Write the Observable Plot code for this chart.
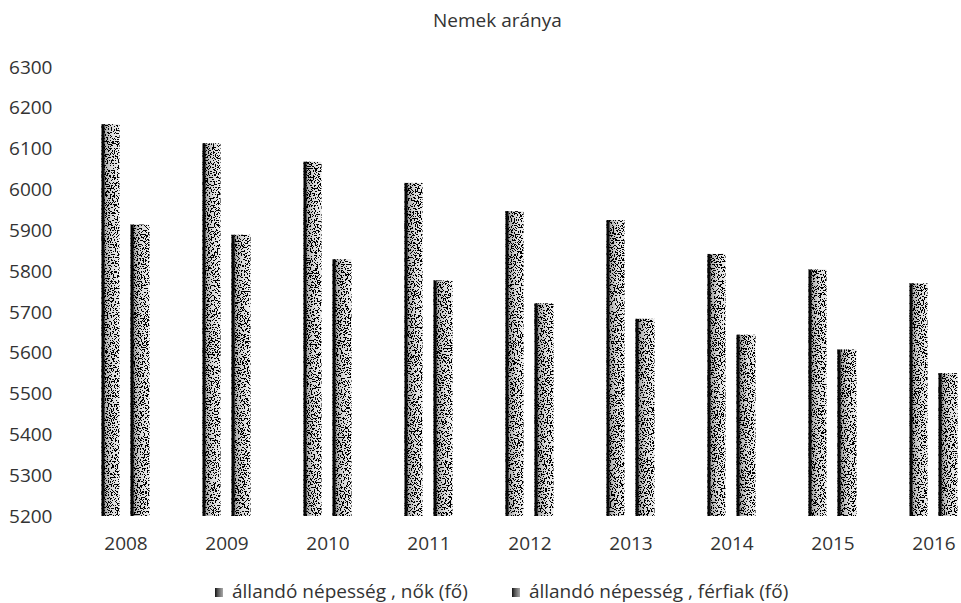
<!DOCTYPE html>
<html>
<head>
<meta charset="utf-8">
<script src="https://cdn.jsdelivr.net/npm/d3@7"></script>
<script src="https://cdn.jsdelivr.net/npm/@observablehq/plot@0.6"></script>
<style>
  html, body { margin: 0; padding: 0; background: #fff; overflow: hidden; }
  #wrap { position: relative; width: 961px; height: 603px; overflow: hidden; font-family: "Open Sans", sans-serif; color: #333; }
  #chart { position: absolute; left: 0; top: 0; }
  #title { position: absolute; top: 7px; left: 433px; font-size: 19px; line-height: 26px; white-space: nowrap; }
  #legend { position: absolute; top: 578px; left: 215px; font-size: 19px; line-height: 26px; white-space: nowrap; }
  #legend span.item { display: inline-block; margin-right: 44px; }
  #legend i { display: inline-block; width: 8px; height: 9px; margin-right: 9px; background: linear-gradient(90deg, #111 0%, #555 35%, #aaa 100%); vertical-align: 1px; }
</style>
</head>
<body>
<div id="wrap">
  <div id="chart"></div>
  <div id="title">Nemek aránya</div>
  <div id="legend"></div>
</div>
<script>
const years = ["2008", "2009", "2010", "2011", "2012", "2013", "2014", "2015", "2016"];
const series = ["állandó népesség , nők (fő)", "állandó népesség , férfiak (fő)"];
const nok = [6160, 6113, 6068, 6016, 5947, 5925, 5842, 5804, 5770];
const ferfiak = [5914, 5889, 5829, 5777, 5721, 5683, 5644, 5608, 5550];
const yTicks = [5200, 5300, 5400, 5500, 5600, 5700, 5800, 5900, 6000, 6100, 6200, 6300];

const dataN = years.map((y, i) => ({year: y, value: nok[i]}));
const dataF = years.map((y, i) => ({year: y, value: ferfiak[i]}));

const chart = Plot.plot({
  width: 961,
  height: 603,
  marginTop: 67,
  marginBottom: 87,
  marginLeft: 73,
  marginRight: 0,
  style: {fontFamily: "Open Sans, sans-serif", fontSize: "19px", color: "#333", background: "transparent", overflow: "visible"},
  x: {domain: years, range: [73.4, 984.6], padding: 0, label: null},
  y: {domain: [5200, 6300], ticks: yTicks, label: null},
  marks: [
    Plot.barY(dataN, {x: "year", y1: 5200, y2: "value", fill: "url(#barGrad)", insetLeft: 26.5, insetRight: 56.5}),
    Plot.barY(dataF, {x: "year", y1: 5200, y2: "value", fill: "url(#barGrad)", insetLeft: 55.5, insetRight: 26.5}),
    Plot.axisY({ticks: yTicks, tickSize: 0, tickPadding: 21, fontSize: 19, tickFormat: d => String(d)}),
    Plot.axisX({tickSize: 0, tickPadding: 20, fontSize: 19})
  ]
});

// gradient + dither filter for the speckled grey bars (dark left edge)
const ns = "http://www.w3.org/2000/svg";
const defs = document.createElementNS(ns, "defs");
defs.innerHTML = `
  <linearGradient id="barGrad" x1="0" x2="1" y1="0" y2="0">
    <stop offset="0" stop-color="#000"/>
    <stop offset="0.13" stop-color="#111"/>
    <stop offset="0.22" stop-color="#aaa"/>
    <stop offset="0.55" stop-color="#d8d8d8"/>
    <stop offset="1" stop-color="#ececec"/>
  </linearGradient>
  <filter id="dither" x="0" y="0" width="1" height="1" color-interpolation-filters="sRGB">
    <feTurbulence type="fractalNoise" baseFrequency="0.7" numOctaves="2" seed="7" result="n"/>
    <feColorMatrix in="n" type="matrix" values="0 0 0 0 0  0 0 0 0 0  0 0 0 0 0  1.5 0 0 0 -0.33" result="na"/>
    <feComponentTransfer in="na" result="dots"><feFuncA type="discrete" tableValues="0 0 0 0 0 1 1 1 1 1"/></feComponentTransfer>
    <feComposite in="dots" in2="SourceGraphic" operator="in" result="clipped"/>
    <feMerge><feMergeNode in="SourceGraphic"/><feMergeNode in="clipped"/></feMerge>
  </filter>`;
chart.insertBefore(defs, chart.firstChild);
chart.querySelectorAll('g[aria-label="bar"]').forEach(g => g.setAttribute("filter", "url(#dither)"));
document.getElementById("chart").appendChild(chart);

const legend = document.getElementById("legend");
series.forEach(s => {
  const item = document.createElement("span");
  item.className = "item";
  const sw = document.createElement("i");
  item.appendChild(sw);
  item.appendChild(document.createTextNode(s));
  legend.appendChild(item);
});
</script>
</body>
</html>
